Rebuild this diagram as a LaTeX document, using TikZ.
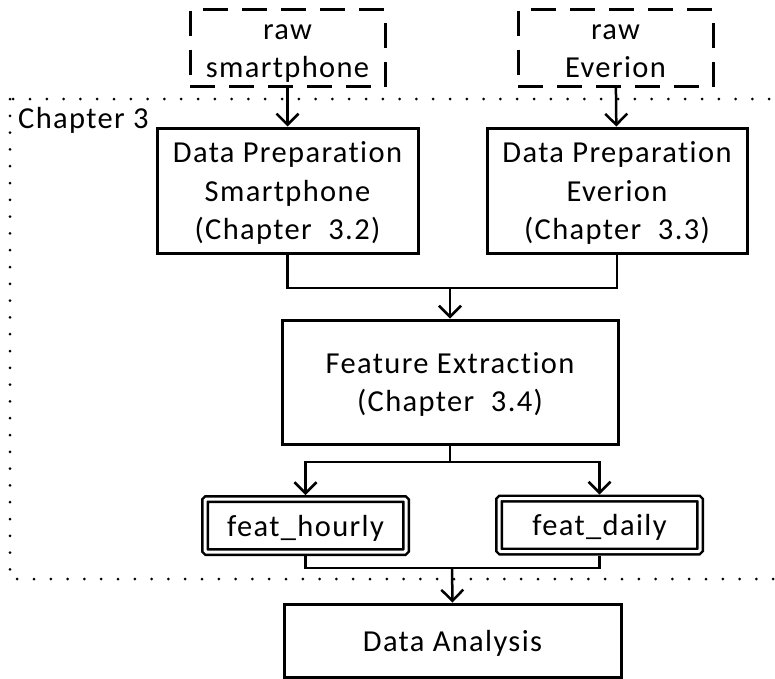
\documentclass[tikz,border=0pt]{standalone}
\usepackage{fontspec}
\setmainfont{Carlito}[LetterSpace=4.5, Ligatures=NoCommon, RawFeature={-liga;-clig;-dlig}]
\usetikzlibrary{arrows.meta}

% centred lines whose baselines sit a little below the middle of each line slot
\newcommand\boxlines[1]{\raisebox{-3pt}[\height][\depth]{\begin{tabular}{@{}c@{}}#1\end{tabular}}}

\begin{document}
\begin{tikzpicture}[x=1pt,y=-1pt,
  every node/.style={font=\fontsize{30.5}{38.5}\selectfont, inner sep=0pt},
  procbox/.style={draw, line width=3pt, rectangle, fill=white},
  rawbox/.style={draw, line width=3pt, dash pattern=on 25pt off 14pt},
  featbox/.style={draw, line width=2.5pt, double, double distance=3pt,
    rounded corners=1.5pt, outer sep=4pt, minimum width=201pt, minimum height=53pt},
  conn/.style={line width=2.5pt},
  flowarrow/.style={conn, -{Straight Barb[length=11pt,width=22pt]}},
  chapframe/.style={line width=3pt, line cap=round, dash pattern=on 0pt off 16.8pt}
]
\useasboundingbox (0,0) rectangle (775,678);
\clip (0,0) rectangle (775,678);

% dotted frame for the chapter; it runs off the right edge
\draw[chapframe] (10,99) rectangle (800,579);
\node[anchor=base west] (chap) at (18,128) {Chapter 3};

% raw data sources
\node[rawbox, minimum width=195pt, minimum height=76pt] (rawS) at (287.5,48)
  {\boxlines{raw\\smartphone}};
\node[rawbox, minimum width=195pt, minimum height=76pt] (rawE) at (615.5,48)
  {\boxlines{raw\\Everion}};

% preparation steps
\node[procbox, minimum width=261pt, minimum height=125pt] (dpS) at (287.5,190.5)
  {\boxlines{Data Preparation\\Smartphone\\(Chapter\ \ 3.2)}};
\node[procbox, minimum width=260pt, minimum height=125pt] (dpE) at (617,190.5)
  {\boxlines{Data Preparation\\Everion\\(Chapter\ \ 3.3)}};

% feature extraction
\node[procbox, minimum width=336pt, minimum height=124pt] (fe) at (450,382)
  {\boxlines{Feature Extraction\\(Chapter\ \ 3.4)}};

% feature tables
\node[featbox] (fh) at (305.5,525.5) {\boxlines{feat\_hourly}};
\node[featbox] (fd) at (599.5,525) {\boxlines{feat\_daily}};

% analysis
\node[procbox, minimum width=337pt, minimum height=73pt] (da) at (452.5,640.5)
  {\boxlines{Data Analysis}};

% junction points
\coordinate (j1) at (450,288);
\coordinate (j2) at (450,462);
\coordinate (j3) at (452,568);

% connectors
\draw[flowarrow] (rawS) -- (dpS);
\draw[flowarrow] (rawE) -- (dpE);
\draw[conn] (dpS.south) |- (j1) -| (dpE.south);
\draw[flowarrow] (j1) -- (fe.north);
\draw[conn] (fe.south) -- (j2);
\draw[flowarrow] (j2) -| (fh.north);
\draw[flowarrow] (j2) -| (fd.north);
\draw[conn] (fh.south) |- (j3) -| (fd.south);
\draw[flowarrow] (j3) -- (da.north);
\end{tikzpicture}
\end{document}
